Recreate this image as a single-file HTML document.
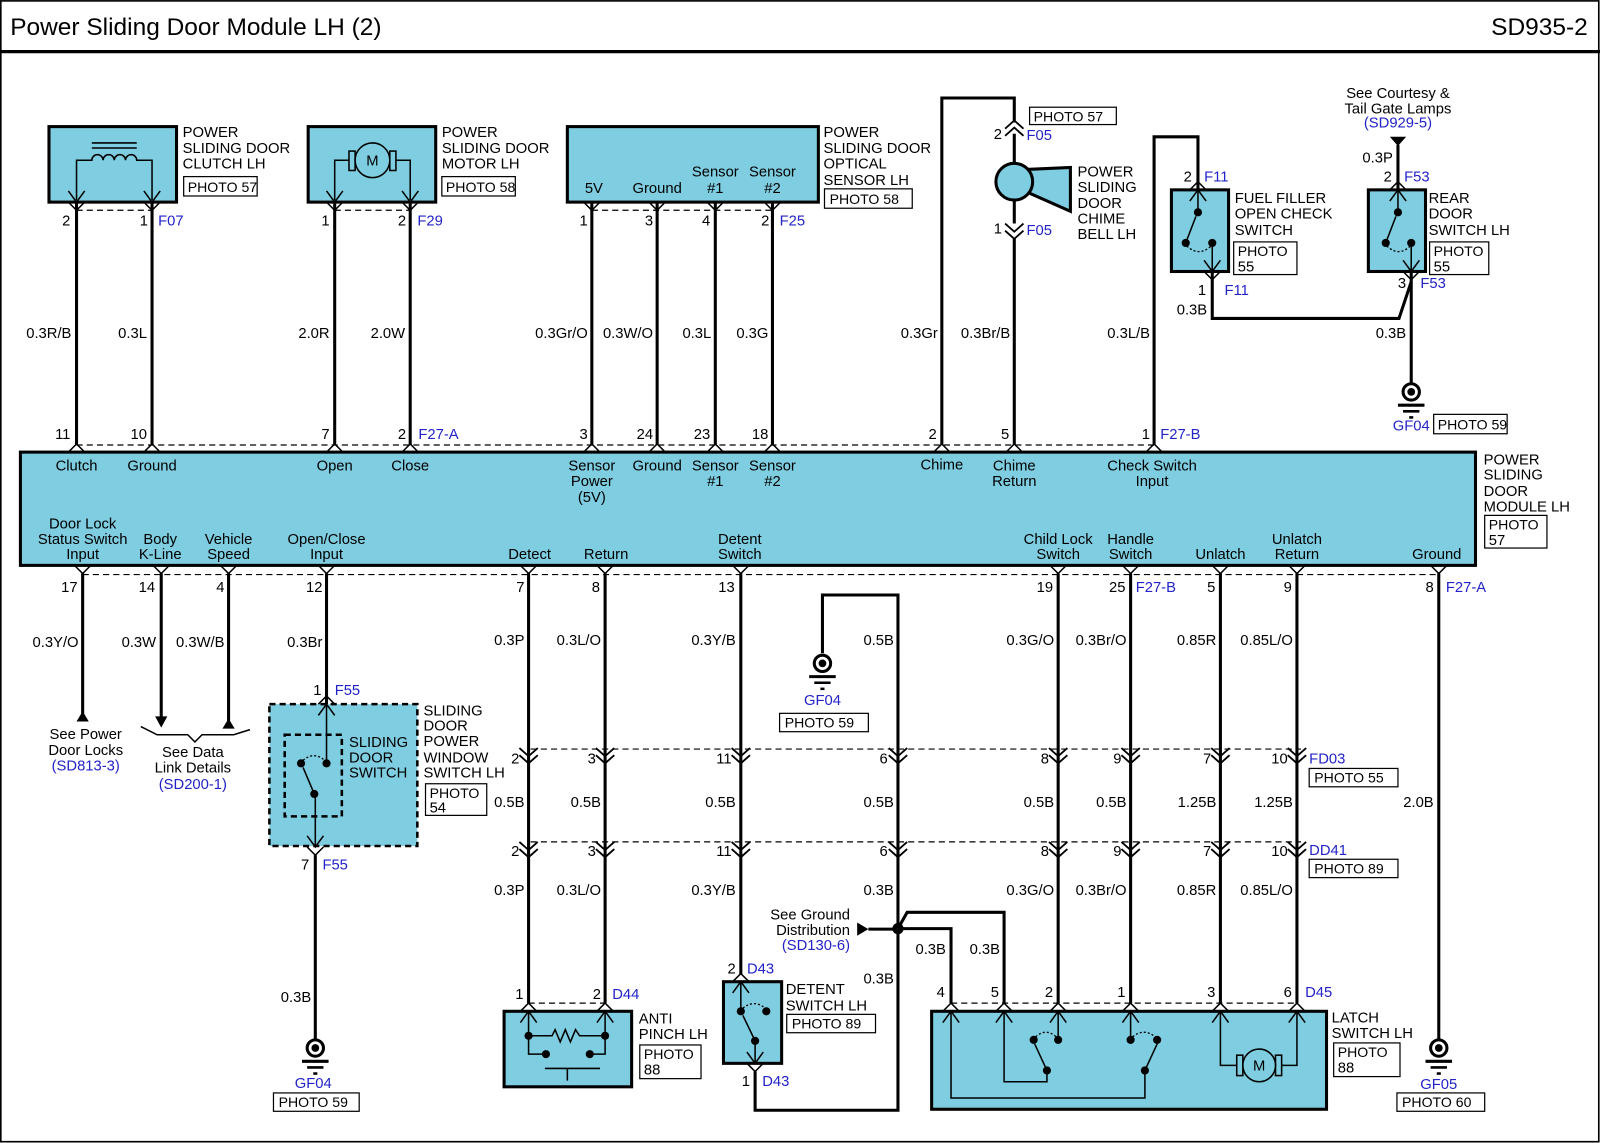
<!DOCTYPE html>
<html><head><meta charset="utf-8"><style>
html,body{margin:0;padding:0;background:#fff}
svg{display:block}
text{font-family:"Liberation Sans",Arial,sans-serif;font-size:14.5px;fill:#000}
rect.pb + text{font-size:13.8px}
.b{fill:#2323c8}
.m{text-anchor:middle}
.e{text-anchor:end}
.w{stroke:#000;stroke-width:3;fill:none}
.t{stroke:#000;stroke-width:1.5;fill:none}
.d{stroke:#000;stroke-width:1.2;stroke-dasharray:6 4;fill:none}
.o{stroke:#000;stroke-width:1.3;stroke-dasharray:2 2;fill:none}
.bx{fill:#7fcde0;stroke:#000;stroke-width:3}
.pb{fill:#fff;stroke:#000;stroke-width:1.2}
</style></head><body>
<svg width="1600" height="1143" viewBox="0 0 1568 1120" xmlns="http://www.w3.org/2000/svg">
<defs>
<g id="cd"><path d="M-8,-11 L0,0 L8,-11 M-8,0 L0,8 L8,0" stroke="#000" stroke-width="1.5" fill="none"/></g>
<g id="cu"><path d="M-8,11 L0,0 L8,11 M-8,0 L0,-8 L8,0" stroke="#000" stroke-width="1.5" fill="none"/></g>
<g id="od"><path d="M-8,0 L0,8 L8,0" stroke="#000" stroke-width="1.5" fill="none"/></g>
<g id="ou"><path d="M-8,0 L0,-8 L8,0" stroke="#000" stroke-width="1.5" fill="none"/></g>
<g id="dv"><path d="M-9,-7 L0,1 L9,-7 M-9,0 L0,8 L9,0" stroke="#000" stroke-width="1.8" fill="none"/></g>
<g id="du"><path d="M-9,7 L0,-1 L9,7 M-9,0 L0,-8 L9,0" stroke="#000" stroke-width="1.8" fill="none"/></g>
<g id="gnd"><circle r="8" fill="#fff" stroke="#000" stroke-width="3"/><circle r="3.8" fill="#000"/><path d="M-13,13H13" stroke="#000" stroke-width="3"/><path d="M-8,19H8" stroke="#000" stroke-width="2.5"/><path d="M-2,25H2" stroke="#000" stroke-width="2.5"/></g>
</defs>
<rect x="0.8" y="0.8" width="1566" height="1118" fill="#fff" stroke="#000" stroke-width="1.6"/>
<text x="10" y="34" style="font-size:24px">Power Sliding Door Module LH (2)</text>
<text x="1556" y="34" class="e" style="font-size:24px">SD935-2</text>
<path d="M0,50.5H1568" stroke="#000" stroke-width="3.2"/>

<!-- clutch -->
<rect x="48" y="124" width="125" height="74" class="bx"/>
<path d="M90,140H134M90,145H134" class="t"/>
<path d="M75,196V157H90a5.5,5.5 0 0 1 11,0a5.5,5.5 0 0 1 11,0a5.5,5.5 0 0 1 11,0a5.5,5.5 0 0 1 11,0H149V196" class="t"/>
<use href="#cd" x="75" y="198"/><use href="#cd" x="149" y="198"/>
<path d="M75,206H149" class="d"/>
<text x="179" y="134">POWER</text><text x="179" y="150">SLIDING DOOR</text><text x="179" y="165">CLUTCH  LH</text>
<rect x="180" y="173" width="72" height="19" class="pb"/><text x="184" y="188">PHOTO 57</text>
<text x="69" y="221" class="e">2</text><text x="145" y="221" class="e">1</text><text x="155" y="221" class="b">F07</text>

<!-- motor -->
<rect x="302" y="124" width="125" height="74" class="bx"/>
<path d="M328,196V157H342M402,196V157H388" class="t"/>
<rect x="342" y="148" width="6" height="19" class="t"/><rect x="382" y="148" width="6" height="19" class="t"/>
<circle cx="365" cy="157" r="17" fill="#7fcde0" stroke="#000" stroke-width="1.5"/>
<text x="365" y="162" class="m">M</text>
<use href="#cd" x="328" y="198"/><use href="#cd" x="402" y="198"/>
<path d="M328,206H402" class="d"/>
<text x="433" y="134">POWER</text><text x="433" y="150">SLIDING DOOR</text><text x="433" y="165">MOTOR LH</text>
<rect x="433" y="173" width="72" height="19" class="pb"/><text x="437" y="188">PHOTO 58</text>
<text x="323" y="221" class="e">1</text><text x="398" y="221" class="e">2</text><text x="409" y="221" class="b">F29</text>

<!-- optical sensor -->
<rect x="556" y="124" width="246" height="74" class="bx"/>
<text x="582" y="189" class="m">5V</text><text x="644" y="189" class="m">Ground</text>
<text x="701" y="173" class="m">Sensor</text><text x="701" y="189" class="m">#1</text>
<text x="757" y="173" class="m">Sensor</text><text x="757" y="189" class="m">#2</text>
<use href="#od" x="580" y="198"/><use href="#od" x="644" y="198"/><use href="#od" x="701" y="198"/><use href="#od" x="757" y="198"/>
<path d="M580,206H757" class="d"/>
<text x="807" y="134">POWER</text><text x="807" y="150">SLIDING DOOR</text><text x="807" y="165">OPTICAL</text><text x="807" y="181">SENSOR LH</text>
<rect x="808" y="185" width="86" height="19" class="pb"/><text x="813" y="200">PHOTO 58</text>
<text x="576" y="221" class="e">1</text><text x="640" y="221" class="e">3</text><text x="696" y="221" class="e">4</text><text x="754" y="221" class="e">2</text><text x="764" y="221" class="b">F25</text>

<!-- top wires -->
<path d="M75,198V436M149,198V436M328,198V436M402,198V436M580,198V436M644,198V436M701,198V436M757,198V436" class="w"/>
<text x="70" y="331" class="e">0.3R/B</text><text x="144" y="331" class="e">0.3L</text>
<text x="323" y="331" class="e">2.0R</text><text x="397" y="331" class="e">2.0W</text>
<text x="576" y="331" class="e">0.3Gr/O</text><text x="640" y="331" class="e">0.3W/O</text>
<text x="697" y="331" class="e">0.3L</text><text x="753" y="331" class="e">0.3G</text>
<text x="919" y="331" class="e">0.3Gr</text><text x="990" y="331" class="e">0.3Br/B</text><text x="1127" y="331" class="e">0.3L/B</text>

<!-- chime -->
<path d="M923,436V96H994V120M994,131V160M994,196V219M994,234V436" class="w"/>
<use href="#du" x="994" y="126"/><use href="#dv" x="994" y="226"/>
<polygon points="1006,166 1049,164 1049,207 1006,188" fill="#7fcde0" stroke="#000" stroke-width="3"/>
<circle cx="994" cy="178" r="18" fill="#7fcde0" stroke="#000" stroke-width="3"/>
<rect x="1009" y="105" width="85" height="17" class="pb"/><text x="1013" y="119">PHOTO 57</text>
<text x="982" y="136" class="e">2</text><text x="1006" y="137" class="b">F05</text>
<text x="982" y="229" class="e">1</text><text x="1006" y="230" class="b">F05</text>
<text x="1056" y="173">POWER</text><text x="1056" y="188">SLIDING</text><text x="1056" y="204">DOOR</text><text x="1056" y="219">CHIME</text><text x="1056" y="234">BELL LH</text>

<!-- fuel filler -->
<path d="M1131,436V134H1174V186M1188,266V312H1371L1383,276M1370,142V186M1383,266V376" class="w"/>
<rect x="1148" y="186" width="56" height="80" class="bx"/>
<use href="#cu" x="1174" y="186"/><use href="#cd" x="1188" y="266"/>
<path d="M1174,186V208M1162,238L1172,212M1188,238V266" class="t"/>
<circle cx="1174" cy="208" r="4" fill="#000"/><circle cx="1162" cy="238" r="4" fill="#000"/><circle cx="1188" cy="238" r="4" fill="#000"/>
<path d="M1163,241Q1175,252 1187,241" class="o"/>
<text x="1168" y="178" class="e">2</text><text x="1180" y="178" class="b">F11</text>
<text x="1182" y="289" class="e">1</text><text x="1200" y="289" class="b">F11</text>
<text x="1210" y="199">FUEL FILLER</text><text x="1210" y="214">OPEN CHECK</text><text x="1210" y="230">SWITCH</text>
<rect x="1209" y="237" width="62" height="32" class="pb"/><text x="1213" y="251">PHOTO</text><text x="1213" y="266">55</text>
<text x="1183" y="308" class="e">0.3B</text>

<!-- rear door switch -->
<rect x="1341" y="186" width="56" height="80" class="bx"/>
<use href="#cu" x="1370" y="186"/><use href="#cd" x="1383" y="266"/>
<path d="M1370,186V208M1358,238L1368,212M1383,238V266" class="t"/>
<circle cx="1370" cy="208" r="4" fill="#000"/><circle cx="1358" cy="238" r="4" fill="#000"/><circle cx="1383" cy="238" r="4" fill="#000"/>
<path d="M1359,241Q1371,252 1382,241" class="o"/>
<polygon points="1362,134 1378,134 1370,143" fill="#000"/>
<text x="1370" y="96" class="m">See Courtesy &amp;</text><text x="1370" y="111" class="m">Tail Gate Lamps</text><text x="1370" y="125" class="m b">(SD929-5)</text>
<text x="1365" y="159" class="e">0.3P</text>
<text x="1364" y="178" class="e">2</text><text x="1376" y="178" class="b">F53</text>
<text x="1378" y="282" class="e">3</text><text x="1392" y="282" class="b">F53</text>
<text x="1400" y="199">REAR</text><text x="1400" y="214">DOOR</text><text x="1400" y="230">SWITCH LH</text>
<rect x="1401" y="237" width="58" height="32" class="pb"/><text x="1405" y="251">PHOTO</text><text x="1405" y="266">55</text>
<text x="1378" y="331" class="e">0.3B</text>
<use href="#gnd" x="1383" y="384"/>
<text x="1383" y="422" class="m b">GF04</text>
<rect x="1405" y="406" width="72" height="19" class="pb"/><text x="1409" y="421">PHOTO 59</text>

<!-- module -->
<rect x="20" y="443" width="1426" height="111" class="bx"/>
<path d="M75,436H1131" class="d"/>
<use href="#ou" x="75" y="443"/><use href="#ou" x="149" y="443"/><use href="#ou" x="328" y="443"/><use href="#ou" x="402" y="443"/>
<use href="#ou" x="580" y="443"/><use href="#ou" x="644" y="443"/><use href="#ou" x="701" y="443"/><use href="#ou" x="757" y="443"/>
<use href="#ou" x="923" y="443"/><use href="#ou" x="994" y="443"/><use href="#ou" x="1131" y="443"/>
<text x="69" y="430" class="e">11</text><text x="144" y="430" class="e">10</text><text x="323" y="430" class="e">7</text><text x="398" y="430" class="e">2</text><text x="410" y="430" class="b">F27-A</text>
<text x="576" y="430" class="e">3</text><text x="640" y="430" class="e">24</text><text x="696" y="430" class="e">23</text><text x="753" y="430" class="e">18</text>
<text x="918" y="430" class="e">2</text><text x="989" y="430" class="e">5</text><text x="1127" y="430" class="e">1</text><text x="1137" y="430" class="b">F27-B</text>
<text x="75" y="461" class="m">Clutch</text><text x="149" y="461" class="m">Ground</text><text x="328" y="461" class="m">Open</text><text x="402" y="461" class="m">Close</text>
<text x="580" y="461" class="m">Sensor</text><text x="580" y="476" class="m">Power</text><text x="580" y="492" class="m">(5V)</text>
<text x="644" y="461" class="m">Ground</text><text x="701" y="461" class="m">Sensor</text><text x="701" y="476" class="m">#1</text>
<text x="757" y="461" class="m">Sensor</text><text x="757" y="476" class="m">#2</text>
<text x="923" y="460" class="m">Chime</text><text x="994" y="461" class="m">Chime</text><text x="994" y="476" class="m">Return</text>
<text x="1129" y="461" class="m">Check Switch</text><text x="1129" y="476" class="m">Input</text>
<text x="81" y="518" class="m">Door Lock</text><text x="81" y="533" class="m">Status Switch</text><text x="81" y="548" class="m">Input</text>
<text x="157" y="533" class="m">Body</text><text x="157" y="548" class="m">K-Line</text>
<text x="224" y="533" class="m">Vehicle</text><text x="224" y="548" class="m">Speed</text>
<text x="320" y="533" class="m">Open/Close</text><text x="320" y="548" class="m">Input</text>
<text x="519" y="548" class="m">Detect</text><text x="594" y="548" class="m">Return</text>
<text x="725" y="533" class="m">Detent</text><text x="725" y="548" class="m">Switch</text>
<text x="1037" y="533" class="m">Child Lock</text><text x="1037" y="548" class="m">Switch</text>
<text x="1108" y="533" class="m">Handle</text><text x="1108" y="548" class="m">Switch</text>
<text x="1196" y="548" class="m">Unlatch</text><text x="1271" y="533" class="m">Unlatch</text><text x="1271" y="548" class="m">Return</text>
<text x="1408" y="548" class="m">Ground</text>
<text x="1454" y="455">POWER</text><text x="1454" y="470">SLIDING</text><text x="1454" y="486">DOOR</text><text x="1454" y="501">MODULE LH</text>
<rect x="1455" y="505" width="61" height="32" class="pb"/><text x="1459" y="519">PHOTO</text><text x="1459" y="534">57</text>

<!-- module bottom -->
<path d="M81,563H1408" class="d"/>
<use href="#od" x="81" y="554"/><use href="#od" x="158" y="554"/><use href="#od" x="224" y="554"/><use href="#od" x="320" y="554"/>
<use href="#od" x="518" y="554"/><use href="#od" x="593" y="554"/><use href="#od" x="726" y="554"/><use href="#od" x="1037" y="554"/>
<use href="#od" x="1108" y="554"/><use href="#od" x="1196" y="554"/><use href="#od" x="1271" y="554"/><use href="#od" x="1410" y="554"/>
<text x="76" y="580" class="e">17</text><text x="152" y="580" class="e">14</text><text x="220" y="580" class="e">4</text><text x="316" y="580" class="e">12</text>
<text x="514" y="580" class="e">7</text><text x="588" y="580" class="e">8</text><text x="720" y="580" class="e">13</text>
<text x="1032" y="580" class="e">19</text><text x="1103" y="580" class="e">25</text><text x="1113" y="580" class="b">F27-B</text>
<text x="1191" y="580" class="e">5</text><text x="1266" y="580" class="e">9</text><text x="1405" y="580" class="e">8</text><text x="1417" y="580" class="b">F27-A</text>

<path d="M81,562V700M158,562V704M224,562V708M320,562V690M518,562V983M593,562V983M726,562V955M1037,562V983M1108,562V983M1196,562V983M1271,562V983M1410,562V1019M880,733V1088H740V1050M806,640V583H880V733M309,838V1019" class="w"/>
<polygon points="81,697 75,707 87,707" fill="#000"/>
<polygon points="152,702 164,702 158,713" fill="#000"/>
<polygon points="224,704 218,714 230,714" fill="#000"/>
<path d="M138,712L154,720H184L191,727L198,720H229L245,715" class="t"/>
<text x="77" y="634" class="e">0.3Y/O</text><text x="153" y="634" class="e">0.3W</text><text x="220" y="634" class="e">0.3W/B</text><text x="316" y="634" class="e">0.3Br</text>
<text x="514" y="632" class="e">0.3P</text><text x="589" y="632" class="e">0.3L/O</text><text x="721" y="632" class="e">0.3Y/B</text><text x="876" y="632" class="e">0.5B</text>
<text x="1033" y="632" class="e">0.3G/O</text><text x="1104" y="632" class="e">0.3Br/O</text><text x="1192" y="632" class="e">0.85R</text><text x="1267" y="632" class="e">0.85L/O</text>
<text x="84" y="724" class="m">See Power</text><text x="84" y="740" class="m">Door Locks</text><text x="84" y="755" class="m b">(SD813-3)</text>
<text x="189" y="742" class="m">See Data</text><text x="189" y="757" class="m">Link Details</text><text x="189" y="773" class="m b">(SD200-1)</text>

<!-- sliding door power window switch -->
<rect x="264" y="690" width="145" height="139" fill="#7fcde0" stroke="#000" stroke-width="2.5" stroke-dasharray="6 4"/>
<rect x="279" y="720" width="56" height="80" fill="none" stroke="#000" stroke-width="2.5" stroke-dasharray="6 4"/>
<use href="#cu" x="320" y="690"/><use href="#cd" x="309" y="830"/>
<path d="M320,690V748M308,778L297,752M309,778V829" class="t"/>
<circle cx="320" cy="748" r="4" fill="#000"/><circle cx="295" cy="748" r="4" fill="#000"/><circle cx="308" cy="778" r="4" fill="#000"/>
<path d="M297,745Q308,736 318,745" class="o"/>
<text x="315" y="681" class="e">1</text><text x="328" y="681" class="b">F55</text>
<text x="303" y="852" class="e">7</text><text x="316" y="852" class="b">F55</text>
<text x="342" y="732">SLIDING</text><text x="342" y="747">DOOR</text><text x="342" y="762">SWITCH</text>
<text x="415" y="701">SLIDING</text><text x="415" y="716">DOOR</text><text x="415" y="731">POWER</text><text x="415" y="747">WINDOW</text><text x="415" y="762">SWITCH LH</text>
<rect x="417" y="768" width="60" height="31" class="pb"/><text x="421" y="782">PHOTO</text><text x="421" y="796">54</text>
<text x="305" y="982" class="e">0.3B</text>
<use href="#gnd" x="309" y="1027"/>
<text x="307" y="1066" class="m b">GF04</text>
<rect x="268" y="1071" width="84" height="18" class="pb"/><text x="273" y="1085">PHOTO 59</text>

<!-- ground GF04 middle -->
<use href="#gnd" x="806" y="650"/>
<text x="806" y="691" class="m b">GF04</text>
<rect x="764" y="699" width="87" height="18" class="pb"/><text x="769" y="713">PHOTO 59</text>

<!-- inline connectors -->
<path d="M520,734H1275M520,825H1275" class="d"/>
<use href="#dv" x="518" y="740"/><use href="#dv" x="593" y="740"/><use href="#dv" x="726" y="740"/><use href="#dv" x="880" y="740"/>
<use href="#dv" x="1037" y="740"/><use href="#dv" x="1108" y="740"/><use href="#dv" x="1196" y="740"/><use href="#dv" x="1271" y="740"/>
<use href="#dv" x="518" y="832"/><use href="#dv" x="593" y="832"/><use href="#dv" x="726" y="832"/><use href="#dv" x="880" y="832"/>
<use href="#dv" x="1037" y="832"/><use href="#dv" x="1108" y="832"/><use href="#dv" x="1196" y="832"/><use href="#dv" x="1271" y="832"/>
<text x="509" y="748" class="e">2</text><text x="584" y="748" class="e">3</text><text x="717" y="748" class="e">11</text><text x="870" y="748" class="e">6</text>
<text x="1028" y="748" class="e">8</text><text x="1099" y="748" class="e">9</text><text x="1187" y="748" class="e">7</text><text x="1262" y="748" class="e">10</text>
<text x="1283" y="748" class="b">FD03</text>
<rect x="1283" y="753" width="87" height="18" class="pb"/><text x="1288" y="767">PHOTO 55</text>
<text x="509" y="839" class="e">2</text><text x="584" y="839" class="e">3</text><text x="717" y="839" class="e">11</text><text x="870" y="839" class="e">6</text>
<text x="1028" y="839" class="e">8</text><text x="1099" y="839" class="e">9</text><text x="1187" y="839" class="e">7</text><text x="1262" y="839" class="e">10</text>
<text x="1283" y="838" class="b">DD41</text>
<rect x="1283" y="842" width="87" height="18" class="pb"/><text x="1288" y="856">PHOTO 89</text>
<text x="514" y="791" class="e">0.5B</text><text x="589" y="791" class="e">0.5B</text><text x="721" y="791" class="e">0.5B</text><text x="876" y="791" class="e">0.5B</text>
<text x="1033" y="791" class="e">0.5B</text><text x="1104" y="791" class="e">0.5B</text><text x="1192" y="791" class="e">1.25B</text><text x="1267" y="791" class="e">1.25B</text><text x="1405" y="791" class="e">2.0B</text>
<text x="514" y="877" class="e">0.3P</text><text x="589" y="877" class="e">0.3L/O</text><text x="721" y="877" class="e">0.3Y/B</text><text x="876" y="877" class="e">0.3B</text>
<text x="1033" y="877" class="e">0.3G/O</text><text x="1104" y="877" class="e">0.3Br/O</text><text x="1192" y="877" class="e">0.85R</text><text x="1267" y="877" class="e">0.85L/O</text>

<!-- ground distribution -->
<path d="M851,910.5H880M880,910H932V983M880,910L889,894H984V983" class="w"/>
<polygon points="840,904 840,917 851,910.5" fill="#000"/>
<circle cx="880" cy="910" r="5.5" fill="#000"/>
<text x="833" y="901" class="e">See Ground</text><text x="833" y="916" class="e">Distribution</text><text x="833" y="931" class="e b">(SD130-6)</text>
<text x="927" y="935" class="e">0.3B</text><text x="980" y="935" class="e">0.3B</text><text x="876" y="964" class="e">0.3B</text>

<!-- anti pinch -->
<rect x="494" y="991" width="125" height="74" class="bx"/>
<path d="M518,983H593" class="d"/>
<use href="#cu" x="518" y="991"/><use href="#cu" x="593" y="991"/>
<path d="M518,991V1033H535M593,991V1033H578M518,1015H541l3,-6l5,12l5,-12l5,12l5,-12l4,6H593M534,1047H588M556,1047V1059" class="t"/>
<circle cx="518" cy="1015" r="4" fill="#000"/><circle cx="593" cy="1015" r="4" fill="#000"/><circle cx="535" cy="1033" r="4" fill="#000"/><circle cx="578" cy="1033" r="4" fill="#000"/>
<text x="513" y="979" class="e">1</text><text x="589" y="979" class="e">2</text><text x="600" y="979" class="b">D44</text>
<text x="626" y="1003">ANTI</text><text x="626" y="1018">PINCH LH</text>
<rect x="627" y="1024" width="60" height="33" class="pb"/><text x="631" y="1038">PHOTO</text><text x="631" y="1053">88</text>

<!-- detent -->
<rect x="709" y="962" width="57" height="80" class="bx"/>
<use href="#cu" x="726" y="962"/><use href="#cd" x="740" y="1042"/>
<path d="M726,962V991M740,1020L728,995M740,1020V1042" class="t"/>
<circle cx="726" cy="991" r="4" fill="#000"/><circle cx="751" cy="991" r="4" fill="#000"/><circle cx="740" cy="1020" r="4" fill="#000"/>
<path d="M728,988Q739,979 750,988" class="o"/>
<text x="721" y="954" class="e">2</text><text x="732" y="954" class="b">D43</text>
<text x="735" y="1064" class="e">1</text><text x="747" y="1064" class="b">D43</text>
<text x="770" y="974">DETENT</text><text x="770" y="990">SWITCH LH</text>
<rect x="771" y="994" width="87" height="18" class="pb"/><text x="776" y="1008">PHOTO 89</text>

<!-- latch switch -->
<rect x="913" y="991" width="387" height="96" class="bx"/>
<path d="M932,983H1271" class="d"/>
<use href="#cu" x="932" y="991"/><use href="#cu" x="984" y="991"/><use href="#cu" x="1037" y="991"/><use href="#cu" x="1108" y="991"/><use href="#cu" x="1196" y="991"/><use href="#cu" x="1271" y="991"/>
<path d="M932,991V1076H1122V1049L1134,1023M984,991V1060H1026V1049L1014,1023M1037,991V1019M1108,991V1019M1196,991V1044H1212M1271,991V1044H1256" class="t"/>
<circle cx="1013" cy="1019" r="4" fill="#000"/><circle cx="1037" cy="1019" r="4" fill="#000"/><circle cx="1026" cy="1049" r="4" fill="#000"/>
<circle cx="1108" cy="1019" r="4" fill="#000"/><circle cx="1134" cy="1019" r="4" fill="#000"/><circle cx="1122" cy="1049" r="4" fill="#000"/>
<path d="M1015,1016Q1025,1007 1035,1016M1110,1016Q1121,1007 1132,1016" class="o"/>
<rect x="1212" y="1034" width="6" height="20" class="t"/><rect x="1250" y="1034" width="6" height="20" class="t"/>
<circle cx="1234" cy="1044" r="16" fill="#7fcde0" stroke="#000" stroke-width="1.5"/>
<text x="1234" y="1049" class="m">M</text>
<text x="926" y="977" class="e">4</text><text x="979" y="977" class="e">5</text><text x="1032" y="977" class="e">2</text><text x="1103" y="977" class="e">1</text>
<text x="1191" y="977" class="e">3</text><text x="1266" y="977" class="e">6</text><text x="1279" y="977" class="b">D45</text>
<text x="1305" y="1002">LATCH</text><text x="1305" y="1017">SWITCH LH</text>
<rect x="1307" y="1022" width="65" height="33" class="pb"/><text x="1311" y="1036">PHOTO</text><text x="1311" y="1051">88</text>

<!-- GF05 -->
<use href="#gnd" x="1410" y="1027"/>
<text x="1410" y="1067" class="m b">GF05</text>
<rect x="1369" y="1071" width="86" height="18" class="pb"/><text x="1374" y="1085">PHOTO 60</text>
</svg>
</body></html>
